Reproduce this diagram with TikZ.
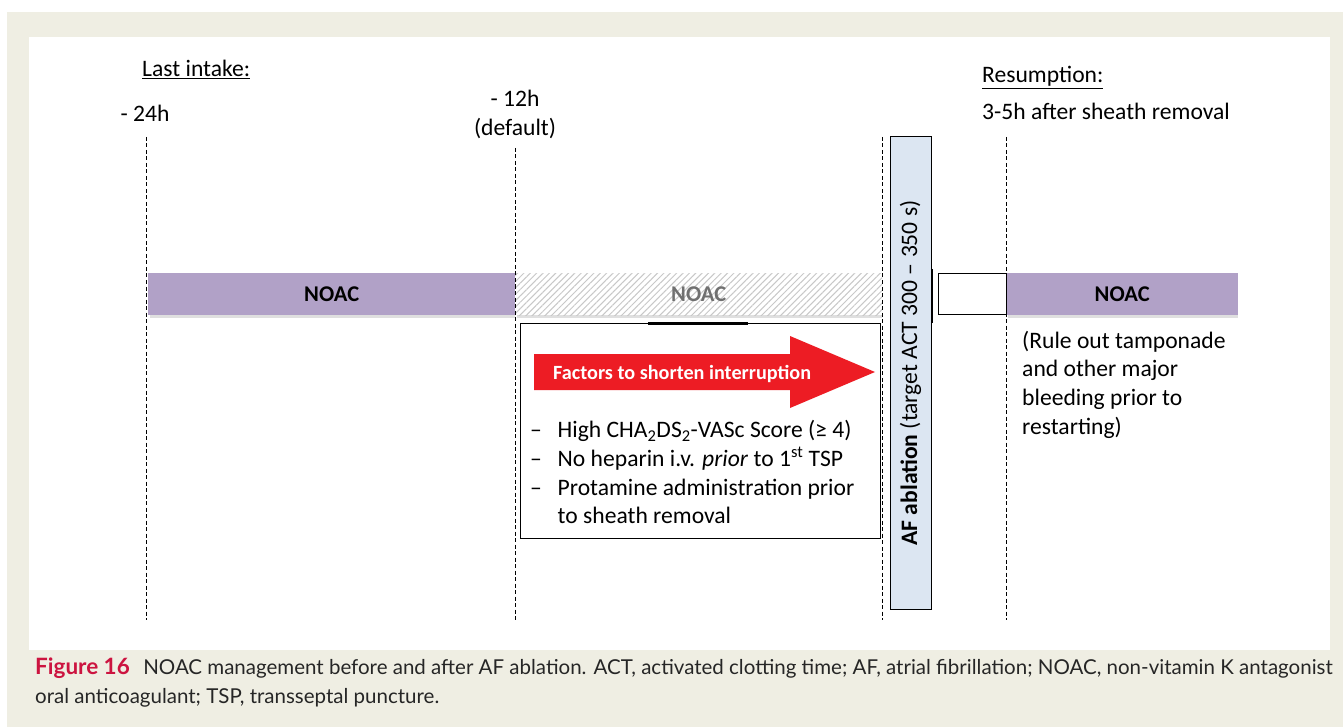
\documentclass[tikz,border=0pt]{standalone}
\usepackage{fontspec}
\setmainfont{Carlito}
\newfontfamily\capfont{Lato}
\usetikzlibrary{patterns.meta}
\definecolor{pagebeige}{HTML}{EFEEE3}
\definecolor{noacpurple}{HTML}{B1A1C7}
\definecolor{ablblue}{HTML}{DCE6F2}
\definecolor{arrowred}{HTML}{ED1C24}
\definecolor{figred}{HTML}{CC1440}
\definecolor{capgray}{HTML}{262626}
\definecolor{hatchgray}{HTML}{C8C8C8}
\definecolor{noacgray}{HTML}{707070}
\begin{document}
\begin{tikzpicture}[x=1pt,y=-1pt,
  guide/.style={line width=0.8pt, dash pattern=on 4pt off 2.5pt},
  lbl/.style={font=\fontsize{23.6}{28.8}\selectfont, inner sep=0pt},
  bar/.style={minimum height=42pt, inner sep=0pt, anchor=north west,
    font=\fontsize{22.5}{26}\selectfont\bfseries},
  capstyle/.style={font=\capfont\fontsize{20.5}{29}\selectfont, text=capgray, inner sep=0pt, anchor=base west}
]
\useasboundingbox (0,0) rectangle (1343,727);
\fill[pagebeige] (7,12) rectangle (1343,727);
\fill[white] (29,37) rectangle (1330,650);

% guide lines
\coordinate (g1t) at (146,137); \coordinate (g1b) at (146,620);
\coordinate (g2t) at (515,148); \coordinate (g2b) at (515,620);
\coordinate (g3t) at (882,137); \coordinate (g3b) at (882,620);
\coordinate (g4t) at (1006,137); \coordinate (g4b) at (1006,620);

% shadows under bars
\fill[gray!25] (150,315) rectangle (515,317.5);
\fill[gray!25] (517,315) rectangle (882,317.5);
\fill[gray!25] (1008,315) rectangle (1238,317.5);

% bars
\node[bar, minimum width=367pt, fill=noacpurple] (noac1) at (148,273) {NOAC};
\node[bar, minimum width=367pt, fill=white,
  postaction={pattern={Lines[angle=45,distance=4.5pt,line width=1pt]}, pattern color=hatchgray},
  text=noacgray] (noac2) at (515,273) {};
\node[bar, text=noacgray] at (noac2.center) [anchor=center] {NOAC};
\node[bar, minimum width=232pt, fill=noacpurple] (noac3) at (1006,273) {NOAC};

\foreach \a/\b in {g1t/g1b,g2t/g2b,g3t/g3b,g4t/g4b}
  \draw[guide] (\a) -- (\b);

% top labels
\node[lbl, anchor=base west] (last) at (142,77) {\underline{Last intake:}};
\node[lbl, anchor=base] (h24) at (145,122) {- 24h};
\node[lbl, anchor=base] (h12) at (515,107) {- 12h};
\node[lbl, anchor=base] (dflt) at (515,135.5) {(default)};
\node[lbl, anchor=base west] (resum) at (982,83) {\underline{Resumption:}};
\node[lbl, anchor=base west] (h35) at (982,120) {3-5h after sheath removal};

% factors box
\node[draw, line width=0.9pt, fill=white, minimum width=360pt, minimum height=215pt,
  anchor=north west, inner sep=0pt] (fbox) at (520,323) {};
\draw[line width=2.4pt] (648,323.5) -- (748,323.5);

% red arrow
\fill[arrowred] (534,354) -- (790,354) -- (790,336) -- (875,372) -- (790,408)
  -- (790,390) -- (534,390) -- cycle;
\node[inner sep=0pt, anchor=base west, text=white, font=\fontsize{20.2}{24}\selectfont\bfseries]
  (ftxt) at (553,379.5) {Factors to shorten interruption};

% bullets
\foreach \y/\t in {437.5/{High CHA\textsubscript{2}DS\textsubscript{2}-VASc Score (≥ 4)},
                   466.3/{No heparin i.v. \textit{prior} to 1\textsuperscript{st} TSP},
                   495.1/{Protamine administration prior}}{
  \node[lbl, anchor=base west] at (530,\y) {–};
  \node[lbl, anchor=base west] at (557.5,\y) {\t};
}
\node[lbl, anchor=base west] (b4) at (557.5,523.9) {to sheath removal};

% ablation box
\node[draw, line width=1pt, fill=ablblue, rotate=90, minimum width=473pt, minimum height=41pt,
  inner sep=0pt, font=\fontsize{23.6}{28.8}\selectfont] (abl) at (910.5,373)
  {\textbf{AF ablation} (target ACT 300 – 350 s)};
\draw[line width=2pt] (932,269) -- (932,323);

% white box
\node[draw, line width=1pt, fill=white, minimum width=68pt, minimum height=41pt,
  anchor=north west, inner sep=0pt] (wbox) at (938,273) {};

% right text
\node[lbl, anchor=base west] (r1) at (1022,348) {(Rule out tamponade};
\node[lbl, anchor=base west] (r2) at (1022,376.8) {and other major};
\node[lbl, anchor=base west] (r3) at (1022,405.6) {bleeding prior to};
\node[lbl, anchor=base west] (r4) at (1022,434.4) {restarting)};

% caption
\node[capstyle] (cap1) at (35,674) {{\color{figred}\bfseries\fontsize{22.5}{29}\selectfont Figure 16}\hspace{0.4em} NOAC management before and after AF ablation. ACT, activated clotting time; AF, atrial fibrillation; NOAC, non-vitamin K antagonist};
\node[capstyle] (cap2) at (35,703) {oral anticoagulant; TSP, transseptal puncture.};
\end{tikzpicture}
\end{document}
